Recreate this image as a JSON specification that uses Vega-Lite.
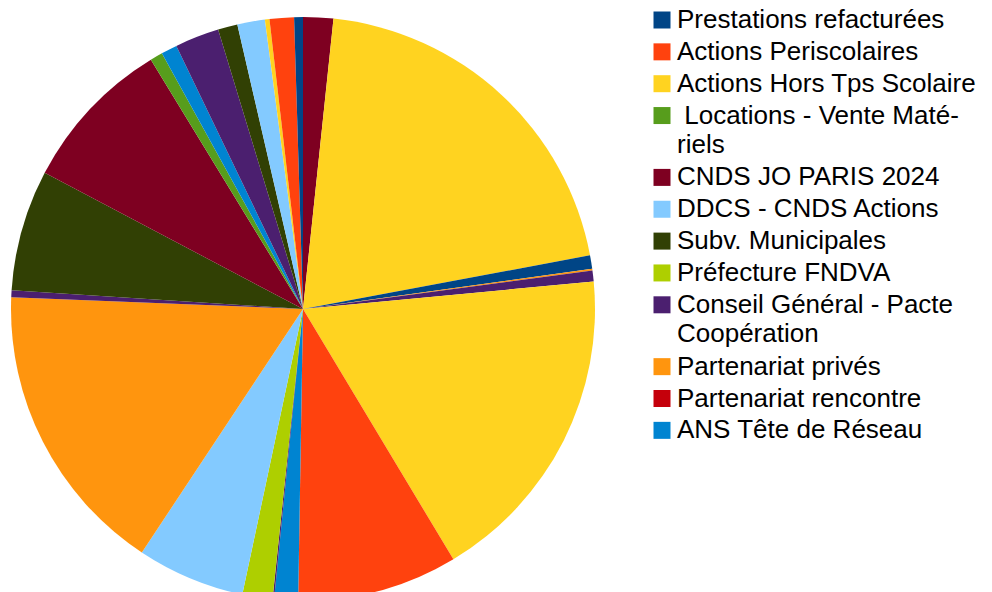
{
  "$schema": "https://vega.github.io/schema/vega-lite/v6.json",
  "width": 584,
  "height": 584,
  "autosize": "none",
  "padding": {"left": 11, "top": 17, "right": 397, "bottom": 0},
  "background": "white",
  "config": {
    "view": {"stroke": null},
    "font": "Liberation Sans",
    "style": {"guide-label": {"lineHeight": 29.5}}
  },
  "data": {
    "values": [
      {"idx": 1, "cat": "CNDS JO PARIS 2024", "value": 6.0},
      {"idx": 2, "cat": "Actions Hors Tps Scolaire", "value": 73.4},
      {"idx": 3, "cat": "Prestations refacturées", "value": 2.7},
      {"idx": 4, "cat": "Partenariat privés", "value": 0.3},
      {"idx": 5, "cat": "Conseil Général - Pacte Coopération", "value": 2.2},
      {"idx": 6, "cat": "Actions Hors Tps Scolaire", "value": 64.4},
      {"idx": 7, "cat": "Actions Periscolaires", "value": 31.95},
      {"idx": 8, "cat": "ANS Tête de Réseau", "value": 4.75},
      {"idx": 9, "cat": "Conseil Général - Pacte Coopération", "value": 0.3},
      {"idx": 10, "cat": "Préfecture FNDVA", "value": 6.0},
      {"idx": 11, "cat": "DDCS - CNDS Actions", "value": 21.5},
      {"idx": 12, "cat": "Partenariat privés", "value": 58.8},
      {"idx": 13, "cat": "Conseil Général - Pacte Coopération", "value": 1.4},
      {"idx": 14, "cat": "Subv. Municipales", "value": 24.1},
      {"idx": 15, "cat": "CNDS JO PARIS 2024", "value": 30.8},
      {"idx": 16, "cat": " Locations - Vente Matériels", "value": 2.5},
      {"idx": 17, "cat": "ANS Tête de Réseau", "value": 3.2},
      {"idx": 18, "cat": "Conseil Général - Pacte Coopération", "value": 8.8},
      {"idx": 19, "cat": "Subv. Municipales", "value": 3.9},
      {"idx": 20, "cat": "DDCS - CNDS Actions", "value": 5.5},
      {"idx": 21, "cat": "Actions Hors Tps Scolaire", "value": 0.9},
      {"idx": 22, "cat": "Actions Periscolaires", "value": 4.85},
      {"idx": 23, "cat": "Prestations refacturées", "value": 1.75}
    ]
  },
  "mark": {"type": "arc", "outerRadius": 292},
  "encoding": {
    "theta": {"field": "value", "type": "quantitative", "stack": true},
    "order": {"field": "idx", "type": "quantitative"},
    "color": {
      "field": "cat",
      "type": "nominal",
      "sort": null,
      "scale": {
        "domain": ["Prestations refacturées", "Actions Periscolaires", "Actions Hors Tps Scolaire", " Locations - Vente Matériels", "CNDS JO PARIS 2024", "DDCS - CNDS Actions", "Subv. Municipales", "Préfecture FNDVA", "Conseil Général - Pacte Coopération", "Partenariat privés", "Partenariat rencontre", "ANS Tête de Réseau"],
        "range": ["#004586", "#ff420e", "#ffd320", "#579d1c", "#7e0021", "#83caff", "#314004", "#aecf00", "#4b1f6f", "#ff950e", "#c5000b", "#0084d1"]
      },
      "legend": {
        "title": null,
        "orient": "none",
        "legendX": 638,
        "legendY": -10,
        "padding": 0,
        "symbolType": "square",
        "symbolSize": 289,
        "symbolStrokeWidth": 0,
        "symbolOpacity": 1,
        "labelFont": "Liberation Sans",
        "labelFontSize": 26,
        "labelColor": "black",
        "labelLimit": 400,
        "labelOffset": 2,
        "labelBaseline": "middle",
        "rowPadding": 5.85,
        "labelExpr": "datum.label == ' Locations - Vente Matériels' ? ['\u200b\u00a0Locations - Vente Maté-', 'riels'] : datum.label == 'Conseil Général - Pacte Coopération' ? ['Conseil Général - Pacte', 'Coopération'] : datum.label"
      }
    }
  }
}
